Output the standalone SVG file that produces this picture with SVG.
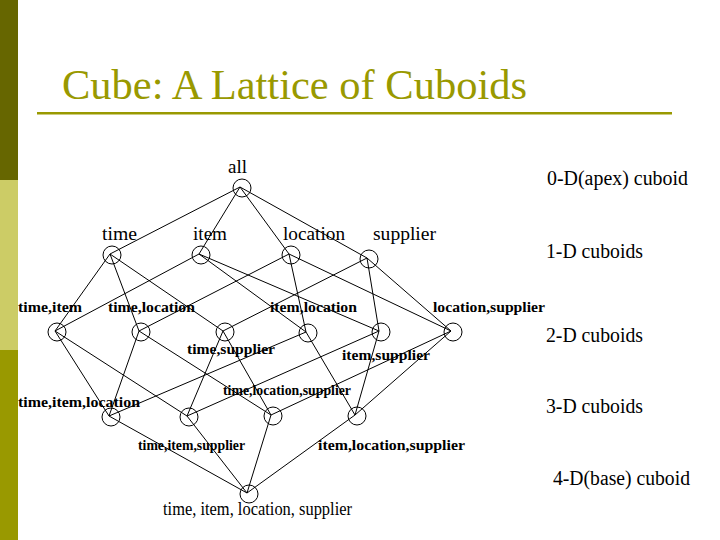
<svg xmlns="http://www.w3.org/2000/svg" width="720" height="540" viewBox="0 0 720 540">
<style>
.e{stroke:#000;stroke-width:1;fill:none}
.n{stroke:#000;stroke-width:1;fill:none}
.tt{font-family:"Liberation Serif",serif;font-size:42px;fill:#999900}
.t1{font-family:"Liberation Serif",serif;font-size:19px;fill:#000}
.t2{font-family:"Liberation Serif",serif;font-size:15px;font-weight:bold;fill:#000}
.tr{font-family:"Liberation Serif",serif;font-size:20px;fill:#000}
</style>
<rect x="0" y="0" width="720" height="540" fill="#fff"/>
<rect x="0" y="0" width="18" height="180" fill="#666600"/>
<rect x="0" y="180" width="18" height="170" fill="#cccc66"/>
<rect x="0" y="350" width="18" height="190" fill="#999900"/>
<text class="tt" x="62" y="99" textLength="465" lengthAdjust="spacingAndGlyphs">Cube: A Lattice of Cuboids</text>
<rect x="37" y="112" width="635" height="2.5" fill="#999900"/>
<g id="connectors">
<line class="e" x1="240" y1="187" x2="110" y2="254"/>
<line class="e" x1="240" y1="187" x2="199" y2="254"/>
<line class="e" x1="240" y1="187" x2="289" y2="254"/>
<line class="e" x1="240" y1="187" x2="367" y2="258"/>
<line class="e" x1="110" y1="254" x2="55" y2="331"/>
<line class="e" x1="110" y1="254" x2="139" y2="331"/>
<line class="e" x1="110" y1="254" x2="223" y2="331"/>
<line class="e" x1="199" y1="254" x2="55" y2="331"/>
<line class="e" x1="199" y1="254" x2="306" y2="332"/>
<line class="e" x1="199" y1="254" x2="379" y2="331"/>
<line class="e" x1="289" y1="254" x2="139" y2="331"/>
<line class="e" x1="289" y1="254" x2="306" y2="332"/>
<line class="e" x1="289" y1="254" x2="451" y2="331"/>
<line class="e" x1="367" y1="258" x2="223" y2="331"/>
<line class="e" x1="367" y1="258" x2="379" y2="331"/>
<line class="e" x1="367" y1="258" x2="451" y2="331"/>
<line class="e" x1="55" y1="331" x2="109" y2="416"/>
<line class="e" x1="55" y1="331" x2="187" y2="416"/>
<line class="e" x1="139" y1="331" x2="109" y2="416"/>
<line class="e" x1="139" y1="331" x2="271" y2="415"/>
<line class="e" x1="223" y1="331" x2="187" y2="416"/>
<line class="e" x1="223" y1="331" x2="271" y2="415"/>
<line class="e" x1="306" y1="332" x2="109" y2="416"/>
<line class="e" x1="306" y1="332" x2="355" y2="415"/>
<line class="e" x1="379" y1="331" x2="187" y2="416"/>
<line class="e" x1="379" y1="331" x2="355" y2="415"/>
<line class="e" x1="451" y1="331" x2="271" y2="415"/>
<line class="e" x1="451" y1="331" x2="355" y2="415"/>
<line class="e" x1="109" y1="416" x2="247" y2="493"/>
<line class="e" x1="187" y1="416" x2="247" y2="493"/>
<line class="e" x1="271" y1="415" x2="247" y2="493"/>
<line class="e" x1="355" y1="415" x2="247" y2="493"/>
</g>
<g id="n-all"><circle class="n" cx="242" cy="188" r="9"/><text class="t1" x="228" y="173" textLength="19" lengthAdjust="spacingAndGlyphs">all</text></g>
<g id="n-time"><circle class="n" cx="112" cy="255" r="9"/><text class="t1" x="102" y="240" textLength="35" lengthAdjust="spacingAndGlyphs">time</text></g>
<g id="n-item"><circle class="n" cx="201" cy="255" r="9"/><text class="t1" x="193" y="240" textLength="34" lengthAdjust="spacingAndGlyphs">item</text></g>
<g id="n-location"><circle class="n" cx="291" cy="255" r="9"/><text class="t1" x="283" y="240" textLength="62" lengthAdjust="spacingAndGlyphs">location</text></g>
<g id="n-supplier"><circle class="n" cx="369" cy="259" r="9"/><text class="t1" x="373" y="240" textLength="63" lengthAdjust="spacingAndGlyphs">supplier</text></g>
<g id="n-time-item"><circle class="n" cx="57" cy="332" r="9"/><text class="t2" x="18" y="312" textLength="64" lengthAdjust="spacingAndGlyphs">time,item</text></g>
<g id="n-time-location"><circle class="n" cx="141" cy="332" r="9"/><text class="t2" x="108" y="312" textLength="87" lengthAdjust="spacingAndGlyphs">time,location</text></g>
<g id="n-time-supplier"><circle class="n" cx="225" cy="332" r="9"/><text class="t2" x="187" y="354" textLength="88" lengthAdjust="spacingAndGlyphs">time,supplier</text></g>
<g id="n-item-location"><circle class="n" cx="308" cy="333" r="9"/><text class="t2" x="270" y="312" textLength="87" lengthAdjust="spacingAndGlyphs">item,location</text></g>
<g id="n-item-supplier"><circle class="n" cx="381" cy="332" r="9"/><text class="t2" x="342" y="360" textLength="88" lengthAdjust="spacingAndGlyphs">item,supplier</text></g>
<g id="n-location-supplier"><circle class="n" cx="453" cy="332" r="9"/><text class="t2" x="433" y="312" textLength="112" lengthAdjust="spacingAndGlyphs">location,supplier</text></g>
<g id="n-time-item-location"><circle class="n" cx="111" cy="417" r="9"/><text class="t2" x="18" y="407" textLength="122" lengthAdjust="spacingAndGlyphs">time,item,location</text></g>
<g id="n-time-item-supplier"><circle class="n" cx="189" cy="417" r="9"/><text class="t2" x="138" y="450" textLength="107" lengthAdjust="spacingAndGlyphs">time,item,supplier</text></g>
<g id="n-time-location-supplier"><circle class="n" cx="273" cy="416" r="9"/><text class="t2" x="223" y="395" textLength="128" lengthAdjust="spacingAndGlyphs">time,location,supplier</text></g>
<g id="n-item-location-supplier"><circle class="n" cx="357" cy="416" r="9"/><text class="t2" x="318" y="450" textLength="147" lengthAdjust="spacingAndGlyphs">item,location,supplier</text></g>
<g id="n-base"><circle class="n" cx="249" cy="494" r="9"/><text class="t1" x="163" y="515" font-size="17" textLength="189" lengthAdjust="spacingAndGlyphs">time, item, location, supplier</text></g>
<g id="levels">
<text class="tr" x="547" y="185" textLength="141" lengthAdjust="spacingAndGlyphs">0-D(apex) cuboid</text>
<text class="tr" x="546" y="258" textLength="97" lengthAdjust="spacingAndGlyphs">1-D cuboids</text>
<text class="tr" x="546" y="342" textLength="97" lengthAdjust="spacingAndGlyphs">2-D cuboids</text>
<text class="tr" x="546" y="413" textLength="97" lengthAdjust="spacingAndGlyphs">3-D cuboids</text>
<text class="tr" x="553" y="485" textLength="137" lengthAdjust="spacingAndGlyphs">4-D(base) cuboid</text>
</g>
</svg>
